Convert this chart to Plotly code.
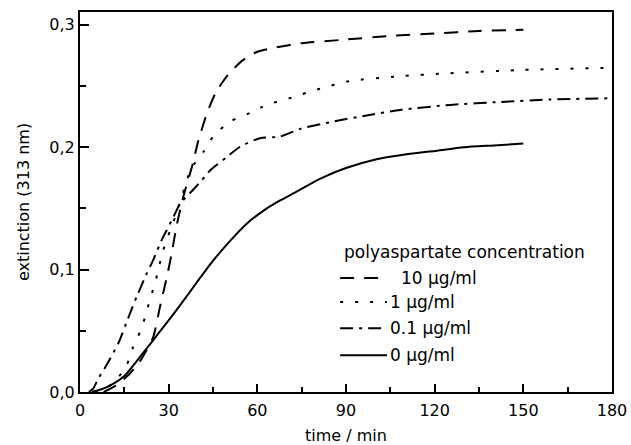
import plotly.graph_objects as go

# ---- data ----
time_10 = [8, 12, 16, 20, 22.5, 24.8, 27.1, 29.3, 31, 32.7, 35, 38, 40, 43, 46, 50, 55, 60, 65, 75, 90, 105, 120, 135, 150]
ext_10 = [0.0, 0.005, 0.013, 0.024, 0.034, 0.045, 0.070, 0.093, 0.113, 0.136, 0.160, 0.185, 0.205, 0.228, 0.245, 0.259, 0.271, 0.278, 0.281, 0.285, 0.288, 0.291, 0.293, 0.295, 0.296]

time_1 = [5, 8, 12, 15.8, 18, 20.3, 22, 23.7, 25.4, 26.5, 28.2, 30.5, 32.2, 34.5, 37.5, 42, 45.1, 50.8, 57.5, 63.2, 72.2, 80, 91, 108, 125, 148, 180]
ext_1 = [0.0, 0.002, 0.009, 0.022, 0.037, 0.049, 0.061, 0.076, 0.089, 0.100, 0.116, 0.132, 0.143, 0.160, 0.182, 0.197, 0.209, 0.221, 0.228, 0.2346, 0.241, 0.247, 0.254, 0.258, 0.2605, 0.263, 0.265]

time_01 = [3, 4.5, 6.2, 9, 13, 16.4, 19.2, 22.6, 24.8, 27.6, 29.3, 31.6, 33.9, 37.8, 41.2, 44, 49.7, 54.2, 60.9, 67.7, 74.5, 85.7, 97, 108.3, 125.3, 142.2, 159.1, 180]
ext_01 = [0.0, 0.003, 0.011, 0.022, 0.040, 0.061, 0.078, 0.097, 0.108, 0.124, 0.132, 0.143, 0.154, 0.164, 0.173, 0.181, 0.192, 0.2005, 0.2074, 0.2087, 0.215, 0.221, 0.226, 0.2305, 0.2346, 0.237, 0.239, 0.240]

time_0 = [4, 7, 10, 15, 20.3, 24, 28.2, 33.9, 39.5, 45.1, 50.8, 56.4, 62, 67.7, 72, 81, 90, 100, 110, 120, 130, 140, 150]
ext_0 = [0.0, 0.002, 0.005, 0.013, 0.0286, 0.040, 0.053, 0.071, 0.0895, 0.1075, 0.1235, 0.1375, 0.148, 0.1565, 0.162, 0.174, 0.183, 0.190, 0.194, 0.197, 0.200, 0.2015, 0.203]

series_names = ["10 µg/ml", "1 µg/ml", "0.1 µg/ml", "0 µg/ml"]
legend_title = "polyaspartate concentration"

x_tickvals = [0, 30, 60, 90, 120, 150, 180]
x_ticktext = ["0", "30", "60", "90", "120", "150", "180"]
y_tickvals = [0.0, 0.1, 0.2, 0.3]
y_ticktext = ["0,0", "0,1", "0,2", "0,3"]

# ---- styles ----
FONT = "DejaVu Sans, Liberation Sans, Arial, sans-serif"
dashes = ["14px,10px", "3px,12px", "13px,6px,3px,6px", "solid"]
series = [(time_10, ext_10), (time_1, ext_1), (time_01, ext_01), (time_0, ext_0)]

fig = go.Figure()
for (t, e), name, d in zip(series, series_names, dashes):
    fig.add_trace(go.Scatter(x=t, y=e, mode="lines", name=name,
                             line=dict(color="black", width=2, dash=d, shape="spline", smoothing=0.6),
                             showlegend=False))

# ---- hand-drawn legend (paper coordinates) ----
x0, x1 = 0.489, 0.577
rows_y = [0.300, 0.2368, 0.168, 0.097]
label_x = [0.600, 0.579, 0.579, 0.579]
fig.add_annotation(x=0.492, y=0.369, xref="paper", yref="paper", text=legend_title,
                   showarrow=False, xanchor="left", yanchor="middle",
                   font=dict(family=FONT, size=17, color="black"))
for name, d, yy, lx in zip(series_names, dashes, rows_y, label_x):
    fig.add_shape(type="line", xref="paper", yref="paper", x0=x0, x1=x1, y0=yy, y1=yy,
                  line=dict(color="black", width=2, dash=d))
    fig.add_annotation(x=lx, y=yy, xref="paper", yref="paper", text=name,
                       showarrow=False, xanchor="left", yanchor="middle",
                       font=dict(family=FONT, size=17, color="black"))

axis_common = dict(showline=True, linecolor="black", linewidth=2, mirror=True,
                   ticks="inside", tickcolor="black", tickwidth=1.5,
                   showgrid=False, zeroline=False, automargin=False,
                   tickfont=dict(family=FONT, size=16, color="black"))

fig.update_xaxes(range=[0, 180], tickvals=x_tickvals, ticktext=x_ticktext, ticklen=8,
                 ticklabelstandoff=3,
                 minor=dict(dtick=15, tick0=0, ticks="inside", ticklen=5, tickcolor="black", tickwidth=1.5),
                 title=dict(text="time / min", font=dict(family=FONT, size=16, color="black"), standoff=12),
                 **axis_common)
fig.update_yaxes(range=[0, 0.3105], tickvals=y_tickvals, ticktext=y_ticktext, ticklen=9,
                 minor=dict(dtick=0.05, tick0=0, ticks="inside", ticklen=6, tickcolor="black", tickwidth=1.5),
                 title=dict(text="extinction (313 nm)", font=dict(family=FONT, size=16, color="black"), standoff=16),
                 **axis_common)

fig.update_layout(width=631, height=445, margin=dict(l=80, r=19, t=12, b=53, autoexpand=False),
                  plot_bgcolor="white", paper_bgcolor="white",
                  font=dict(family=FONT, size=16, color="black"))

fig.write_html("out.html", config={"displayModeBar": False},
               post_script="document.body.style.margin='0px';")
